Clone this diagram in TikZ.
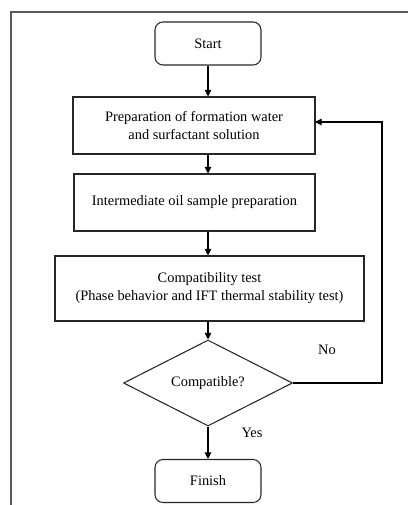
\documentclass[tikz,border=0pt]{standalone}
\usepackage{fontspec}
\setmainfont{Liberation Serif}
\usetikzlibrary{shapes.geometric,arrows.meta}
\begin{document}
\begin{tikzpicture}[x=0.75pt,y=-0.75pt,
  every node/.style={font=\fontsize{10.8}{13.5}\selectfont},
  term/.style={draw=black!85,line width=0.8pt,rounded corners=6pt,minimum width=106*0.75pt,minimum height=43*0.75pt,inner sep=0pt},
  proc/.style={draw=black!85,line width=0.8pt,inner sep=0pt,align=center},
  dec/.style={draw=black!85,line width=0.8pt,diamond,aspect=1.97,minimum width=169*0.75pt,minimum height=86*0.75pt,inner sep=0pt},
  flow/.style={line width=0.8pt,-{Triangle[length=5pt,width=5pt]}},
  lbl/.style={inner sep=0pt}]
\useasboundingbox (0,0) rectangle (408,505);
\draw[black!65,line width=0.8pt] (11,505) -- (11,12) -- (408,12);
\node[term] (start) at (208,43.5) {Start};
\node[proc,minimum width=242*0.75pt,minimum height=57*0.75pt] (prep) at (194,125.5) {Preparation of formation water\\and surfactant solution};
\node[proc,minimum width=241*0.75pt,minimum height=57*0.75pt] (oil) at (194.5,202.5) {Intermediate oil sample preparation};
\node[proc,minimum width=309*0.75pt,minimum height=65*0.75pt] (test) at (209.5,288.5) {Compatibility test\\(Phase behavior and IFT thermal stability test)};
\node[dec] (comp) at (208,383) {Compatible?};
\node[term] (fin) at (208,481) {Finish};
\coordinate (c1) at (382,383);
\coordinate (c2) at (382,122);
\coordinate (c3) at (315,122);
\draw[flow] (start.south) -- (start.south |- prep.north);
\draw[flow] (start.south |- prep.south) -- (start.south |- oil.north);
\draw[flow] (start.south |- oil.south) -- (start.south |- test.north);
\draw[flow] (start.south |- test.south) -- (comp.north);
\draw[flow] (comp.south) -- (fin.north);
\draw[flow] (comp.east) -- (c1) -- (c2) -- (c3);
\node[lbl] (no) at (327,350) {No};
\node[lbl] (yes) at (252,433) {Yes};
\end{tikzpicture}
\end{document}
